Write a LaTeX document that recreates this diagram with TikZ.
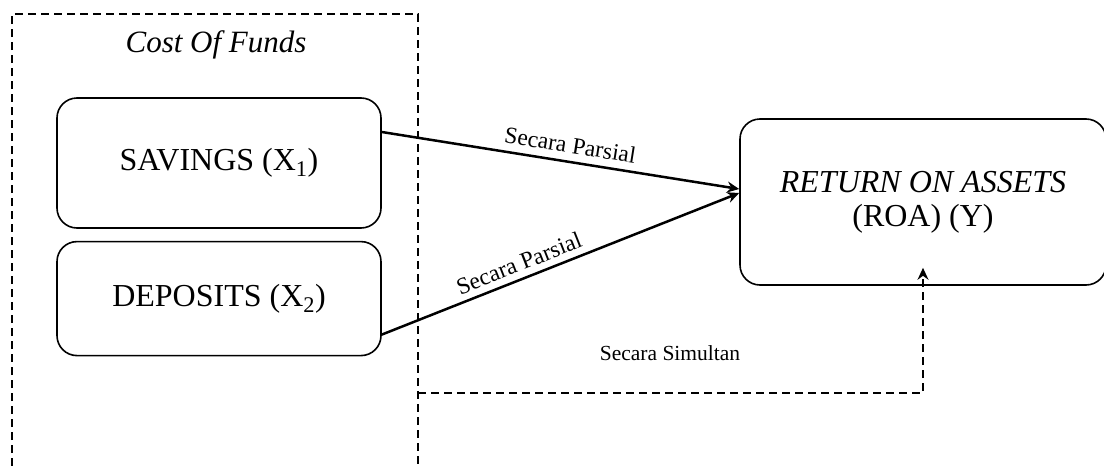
\documentclass[tikz,border=0pt]{standalone}
\usepackage{fontspec}
\setmainfont{Liberation Serif}
\usetikzlibrary{arrows.meta,positioning}

\begin{document}
\begin{tikzpicture}
 [x=1pt,y=1pt,
 var/.style={
  rectangle,
  rounded corners=20pt,
  line width=1.6pt, % border
  draw=black,
  minimum width=324pt,
  text centered,
  font=\fontsize{32}{34}\selectfont},
 link/.style={-{Stealth[length=12pt,width=11pt,inset=4pt]},line width=2.5pt},
 frame/.style={line width=1.6pt,dash pattern=on 8pt off 5pt},
 lbl/.style={font=\fontsize{23.5}{26}\selectfont}]
\useasboundingbox (0,0) rectangle (1104,-466);
% dashed frame round the cost of funds
\draw[frame] (12,-466) -- (12,-14) -- (418,-14) -- (418,-466);
\node (cof) at (216,-45) {\fontsize{31}{34}\selectfont\textit{Cost Of Funds}};
\node (savings) [var,minimum height=130pt] at (219,-163) {SAVINGS (X\textsubscript{1})};
\node (deposits) [var,minimum height=114pt,below=12pt of savings] {DEPOSITS (X\textsubscript{2})};
\node (roa) [var,minimum width=366pt,minimum height=166pt,align=center] at (923,-202) {\textit{RETURN ON ASSETS}\\(ROA) (Y)};
\coordinate (simul) at (418,-393);
\draw[link] ([yshift=31pt]savings.east) -- node[lbl,sloped,above=4pt,pos=0.52] {Secara Parsial} ([yshift=13pt]roa.west);
\draw[link] ([yshift=-36pt]deposits.east) -- node[lbl,sloped,above=3pt,pos=0.40] {Secara Parsial} ([yshift=9pt]roa.west);
\draw[frame,-{Stealth[length=12pt,width=11pt,inset=4pt]}] (simul) -| ([yshift=18pt]roa.south);
\node (simlbl) [lbl,font=\fontsize{21.5}{24}\selectfont] at (670,-353) {Secara Simultan};
\end{tikzpicture}
\end{document}
